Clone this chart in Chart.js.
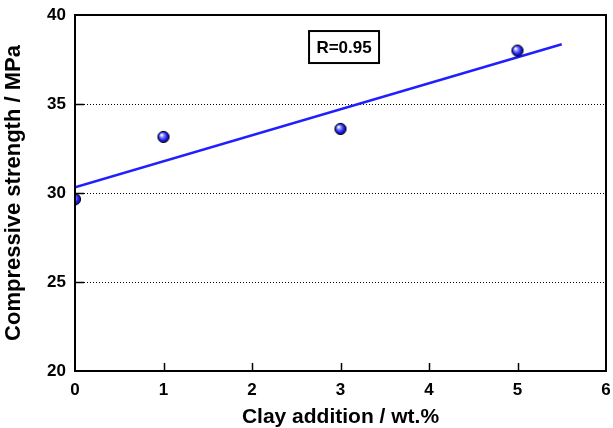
<!DOCTYPE html>
<html>
<head>
<meta charset="utf-8">
<script src="https://cdn.jsdelivr.net/npm/chart.js@4.4.1/dist/chart.umd.min.js"></script>
<style>
  html, body { margin: 0; padding: 0; background: #fff; }
  #wrap { width: 613px; height: 428px; }
</style>
</head>
<body>
<div id="wrap"><canvas id="c"></canvas></div>
<script>
const clayX = [0, 1, 3, 5]
const strength = [29.65, 33.15, 33.6, 38.0]
const fitX = [0, 5.5]
const fitY = [30.32, 38.36]
const xTicks = [0, 1, 2, 3, 4, 5, 6]
const yTicks = [20, 25, 30, 35, 40]
const rLabel = 'R=0.95'

const FONT = "'Liberation Sans', Arial, sans-serif"

// shaded ball marker
const ball = document.createElement('canvas')
ball.width = 14; ball.height = 14
const b = ball.getContext('2d')
const g = b.createRadialGradient(5, 5, 0.5, 7, 7, 6.5)
g.addColorStop(0, '#ffffff')
g.addColorStop(0.25, '#8c8cff')
g.addColorStop(0.6, '#2020f0')
g.addColorStop(1, '#000070')
b.beginPath(); b.arc(7, 7, 5.6, 0, Math.PI*2)
b.fillStyle = g; b.fill()
b.lineWidth = 1; b.strokeStyle = '#000'; b.stroke()

const frame = {
  id: 'frame',
  afterDraw(chart){
    const {ctx, chartArea: a, scales: {x, y}} = chart
    ctx.save()
    ctx.strokeStyle = '#000'
    ctx.lineWidth = 2
    ctx.strokeRect(a.left, a.top, a.right - a.left, a.bottom - a.top)
    ctx.lineWidth = 1.5
    ctx.beginPath()
    xTicks.slice(1, -1).forEach(v => {
      const px = Math.round(x.getPixelForValue(v)) + 0.5
      ctx.moveTo(px, a.bottom); ctx.lineTo(px, a.bottom - 8)
    })
    yTicks.slice(1, -1).forEach(v => {
      const py = Math.round(y.getPixelForValue(v)) + 0.5
      ctx.moveTo(a.left, py); ctx.lineTo(a.left + 9, py)
    })
    ctx.stroke()
    // R label box
    const cx = x.getPixelForValue(3.04), cy = y.getPixelForValue(38.2)
    ctx.fillStyle = '#fff'
    ctx.fillRect(cx - 35, cy - 16, 70, 32)
    ctx.lineWidth = 2
    ctx.strokeRect(cx - 35, cy - 16, 70, 32)
    ctx.fillStyle = '#000'
    ctx.font = 'bold 17px ' + FONT
    ctx.textAlign = 'center'; ctx.textBaseline = 'middle'
    ctx.fillText(rLabel, cx, cy + 1)
    ctx.restore()
  }
}

new Chart(document.getElementById('c'), {
  type: 'scatter',
  data: {
    datasets: [{
      label: 'data',
      data: clayX.map((v, i) => ({x: v, y: strength[i]})),
      pointStyle: ball,
      order: 1
    }, {
      label: 'fit',
      data: fitX.map((v, i) => ({x: v, y: fitY[i]})),
      showLine: true,
      borderColor: '#1f1fff',
      borderWidth: 2.5,
      pointRadius: 0,
      order: 2
    }]
  },
  options: {
    responsive: true,
    maintainAspectRatio: false,
    animation: false,
    layout: { padding: { left: 0, right: 7, top: 15, bottom: 0 } },
    plugins: {
      legend: { display: false },
      tooltip: { enabled: false }
    },
    scales: {
      x: {
        type: 'linear',
        min: 0, max: 6,
        afterFit: s => { s.height = 57; s.paddingLeft = 0; s.paddingRight = 0 },
        afterBuildTicks: s => { s.ticks = xTicks.map(v => ({value: v})) },
        grid: { display: false, drawTicks: false },
        border: { display: false },
        ticks: { color: '#000', padding: 9, font: { family: FONT, size: 17, weight: 'bold' } },
        title: {
          display: true, text: 'Clay addition / wt.%', color: '#000',
          padding: { top: 0, bottom: 0 },
          font: { family: FONT, size: 21, weight: 'bold', lineHeight: 1 }
        }
      },
      y: {
        min: 20, max: 40,
        afterFit: s => { s.width = 75; s.paddingTop = 0; s.paddingBottom = 0 },
        afterBuildTicks: s => { s.ticks = yTicks.map(v => ({value: v})) },
        grid: {
          drawTicks: false,
          color: c => (c.tick && c.tick.value > 20 && c.tick.value < 40) ? '#000' : 'rgba(0,0,0,0)',
          lineWidth: 1
        },
        border: { display: false, dash: [1, 2] },
        ticks: { color: '#000', padding: 9, font: { family: FONT, size: 17, weight: 'bold' } },
        title: {
          display: true, text: 'Compressive strength / MPa', color: '#000',
          padding: { top: 1, bottom: 0 },
          font: { family: FONT, size: 22, weight: 'bold' }
        }
      }
    }
  },
  plugins: [frame]
});
</script>
</body>
</html>
